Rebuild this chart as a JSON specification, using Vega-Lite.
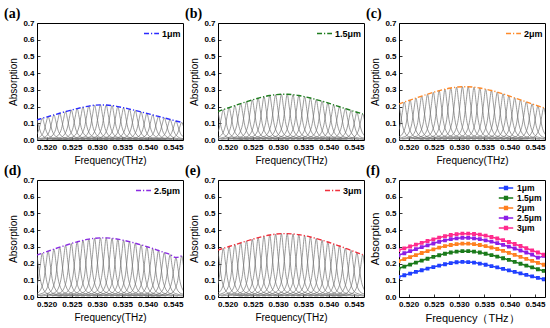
{
"$schema":"https://vega.github.io/schema/vega-lite/v6.json",
"background":"white",
"padding":{"left":3,"top":6,"right":2,"bottom":2},
"datasets":{
"xs":[
{"k":0,"x":[0.513,0.5158,0.5167,0.5172,0.5176,0.518,0.5184,0.5188,0.5193,0.5202,0.523]},
{"k":1,"x":[0.51415,0.51695,0.51785,0.51835,0.51875,0.51915,0.51955,0.51995,0.52045,0.52135,0.52415]},
{"k":2,"x":[0.5153,0.5181,0.519,0.5195,0.5199,0.5203,0.5207,0.5211,0.5216,0.5225,0.5253]},
{"k":3,"x":[0.51645,0.51925,0.52015,0.52065,0.52105,0.52145,0.52185,0.52225,0.52275,0.52365,0.52645]},
{"k":4,"x":[0.5176,0.5204,0.5213,0.5218,0.5222,0.5226,0.523,0.5234,0.5239,0.5248,0.5276]},
{"k":5,"x":[0.51875,0.52155,0.52245,0.52295,0.52335,0.52375,0.52415,0.52455,0.52505,0.52595,0.52875]},
{"k":6,"x":[0.5199,0.5227,0.5236,0.5241,0.5245,0.5249,0.5253,0.5257,0.5262,0.5271,0.5299]},
{"k":7,"x":[0.52105,0.52385,0.52475,0.52525,0.52565,0.52605,0.52645,0.52685,0.52735,0.52825,0.53105]},
{"k":8,"x":[0.5222,0.525,0.5259,0.5264,0.5268,0.5272,0.5276,0.528,0.5285,0.5294,0.5322]},
{"k":9,"x":[0.52335,0.52615,0.52705,0.52755,0.52795,0.52835,0.52875,0.52915,0.52965,0.53055,0.53335]},
{"k":10,"x":[0.5245,0.5273,0.5282,0.5287,0.5291,0.5295,0.5299,0.5303,0.5308,0.5317,0.5345]},
{"k":11,"x":[0.52565,0.52845,0.52935,0.52985,0.53025,0.53065,0.53105,0.53145,0.53195,0.53285,0.53565]},
{"k":12,"x":[0.5268,0.5296,0.5305,0.531,0.5314,0.5318,0.5322,0.5326,0.5331,0.534,0.5368]},
{"k":13,"x":[0.52795,0.53075,0.53165,0.53215,0.53255,0.53295,0.53335,0.53375,0.53425,0.53515,0.53795]},
{"k":14,"x":[0.5291,0.5319,0.5328,0.5333,0.5337,0.5341,0.5345,0.5349,0.5354,0.5363,0.5391]},
{"k":15,"x":[0.53025,0.53305,0.53395,0.53445,0.53485,0.53525,0.53565,0.53605,0.53655,0.53745,0.54025]},
{"k":16,"x":[0.5314,0.5342,0.5351,0.5356,0.536,0.5364,0.5368,0.5372,0.5377,0.5386,0.5414]},
{"k":17,"x":[0.53255,0.53535,0.53625,0.53675,0.53715,0.53755,0.53795,0.53835,0.53885,0.53975,0.54255]},
{"k":18,"x":[0.5337,0.5365,0.5374,0.5379,0.5383,0.5387,0.5391,0.5395,0.54,0.5409,0.5437]},
{"k":19,"x":[0.53485,0.53765,0.53855,0.53905,0.53945,0.53985,0.54025,0.54065,0.54115,0.54205,0.54485]},
{"k":20,"x":[0.536,0.5388,0.5397,0.5402,0.5406,0.541,0.5414,0.5418,0.5423,0.5432,0.546]},
{"k":21,"x":[0.53715,0.53995,0.54085,0.54135,0.54175,0.54215,0.54255,0.54295,0.54345,0.54435,0.54715]},
{"k":22,"x":[0.5383,0.5411,0.542,0.5425,0.5429,0.5433,0.5437,0.5441,0.5446,0.5455,0.5483]},
{"k":23,"x":[0.53945,0.54225,0.54315,0.54365,0.54405,0.54445,0.54485,0.54525,0.54575,0.54665,0.54945]},
{"k":24,"x":[0.5406,0.5434,0.5443,0.5448,0.5452,0.5456,0.546,0.5464,0.5469,0.5478,0.5506]},
{"k":25,"x":[0.54175,0.54455,0.54545,0.54595,0.54635,0.54675,0.54715,0.54755,0.54805,0.54895,0.55175]}
],
"cx":[{"j":1,"x":[0.518,0.51915,0.5203,0.52145,0.5226,0.52375,0.5249,0.52605,0.5272,0.52835,0.5295,0.53065,0.5318,0.53295,0.5341,0.53525,0.5364,0.53755,0.5387,0.53985,0.541,0.54215,0.5433,0.54445,0.5456,0.54675]}],
"env":[
{"s":"1μm","j":1,"y":[0.12,0.13,0.14,0.15,0.16,0.17,0.179,0.188,0.196,0.203,0.208,0.21,0.209,0.206,0.2,0.193,0.185,0.177,0.168,0.159,0.15,0.141,0.132,0.123,0.114,0.106]},
{"s":"1.5μm","j":1,"y":[0.17,0.182,0.194,0.206,0.218,0.229,0.24,0.25,0.259,0.266,0.271,0.274,0.274,0.271,0.266,0.259,0.251,0.242,0.232,0.222,0.21,0.199,0.188,0.177,0.166,0.156]},
{"s":"2μm","j":1,"y":[0.215,0.227,0.239,0.251,0.263,0.274,0.285,0.295,0.304,0.311,0.316,0.319,0.319,0.316,0.311,0.304,0.296,0.287,0.276,0.264,0.252,0.24,0.228,0.216,0.204,0.193]},
{"s":"2.5μm","j":1,"y":[0.25,0.262,0.274,0.286,0.298,0.309,0.32,0.33,0.339,0.346,0.351,0.354,0.354,0.351,0.346,0.339,0.331,0.322,0.312,0.301,0.29,0.278,0.266,0.254,0.236,0.246]},
{"s":"3μm","j":1,"y":[0.28,0.291,0.302,0.313,0.324,0.335,0.345,0.355,0.364,0.371,0.376,0.379,0.379,0.377,0.373,0.367,0.359,0.35,0.34,0.329,0.317,0.305,0.292,0.279,0.266,0.253]}
],
"g":[
{"p":"a","k":0,"y":[0.002,0.01,0.024,0.048,0.087,0.12,0.087,0.048,0.024,0.01,0.002]},
{"p":"a","k":1,"y":[0.002,0.01,0.026,0.052,0.094,0.13,0.094,0.052,0.026,0.01,0.002]},
{"p":"a","k":2,"y":[0.002,0.011,0.028,0.056,0.102,0.14,0.102,0.056,0.028,0.011,0.002]},
{"p":"a","k":3,"y":[0.003,0.012,0.03,0.06,0.109,0.15,0.109,0.06,0.03,0.012,0.003]},
{"p":"a","k":4,"y":[0.003,0.013,0.032,0.064,0.116,0.16,0.116,0.064,0.032,0.013,0.003]},
{"p":"a","k":5,"y":[0.003,0.014,0.034,0.068,0.123,0.17,0.123,0.068,0.034,0.014,0.003]},
{"p":"a","k":6,"y":[0.003,0.014,0.036,0.072,0.13,0.179,0.13,0.072,0.036,0.014,0.003]},
{"p":"a","k":7,"y":[0.003,0.015,0.038,0.075,0.136,0.188,0.136,0.075,0.038,0.015,0.003]},
{"p":"a","k":8,"y":[0.003,0.016,0.039,0.078,0.142,0.196,0.142,0.078,0.039,0.016,0.003]},
{"p":"a","k":9,"y":[0.003,0.016,0.041,0.081,0.147,0.203,0.147,0.081,0.041,0.016,0.003]},
{"p":"a","k":10,"y":[0.004,0.017,0.042,0.083,0.151,0.208,0.151,0.083,0.042,0.017,0.004]},
{"p":"a","k":11,"y":[0.004,0.017,0.042,0.084,0.152,0.21,0.152,0.084,0.042,0.017,0.004]},
{"p":"a","k":12,"y":[0.004,0.017,0.042,0.084,0.152,0.209,0.152,0.084,0.042,0.017,0.004]},
{"p":"a","k":13,"y":[0.004,0.016,0.041,0.082,0.149,0.206,0.149,0.082,0.041,0.016,0.004]},
{"p":"a","k":14,"y":[0.003,0.016,0.04,0.08,0.145,0.2,0.145,0.08,0.04,0.016,0.003]},
{"p":"a","k":15,"y":[0.003,0.015,0.039,0.077,0.14,0.193,0.14,0.077,0.039,0.015,0.003]},
{"p":"a","k":16,"y":[0.003,0.015,0.037,0.074,0.134,0.185,0.134,0.074,0.037,0.015,0.003]},
{"p":"a","k":17,"y":[0.003,0.014,0.035,0.071,0.128,0.177,0.128,0.071,0.035,0.014,0.003]},
{"p":"a","k":18,"y":[0.003,0.013,0.034,0.067,0.122,0.168,0.122,0.067,0.034,0.013,0.003]},
{"p":"a","k":19,"y":[0.003,0.013,0.032,0.064,0.115,0.159,0.115,0.064,0.032,0.013,0.003]},
{"p":"a","k":20,"y":[0.003,0.012,0.03,0.06,0.109,0.15,0.109,0.06,0.03,0.012,0.003]},
{"p":"a","k":21,"y":[0.002,0.011,0.028,0.056,0.102,0.141,0.102,0.056,0.028,0.011,0.002]},
{"p":"a","k":22,"y":[0.002,0.011,0.026,0.053,0.096,0.132,0.096,0.053,0.026,0.011,0.002]},
{"p":"a","k":23,"y":[0.002,0.01,0.025,0.049,0.089,0.123,0.089,0.049,0.025,0.01,0.002]},
{"p":"a","k":24,"y":[0.002,0.009,0.023,0.046,0.083,0.114,0.083,0.046,0.023,0.009,0.002]},
{"p":"a","k":25,"y":[0.002,0.008,0.021,0.042,0.077,0.106,0.077,0.042,0.021,0.008,0.002]},
{"p":"b","k":0,"y":[0.003,0.014,0.034,0.068,0.123,0.17,0.123,0.068,0.034,0.014,0.003]},
{"p":"b","k":1,"y":[0.003,0.015,0.036,0.073,0.132,0.182,0.132,0.073,0.036,0.015,0.003]},
{"p":"b","k":2,"y":[0.003,0.016,0.039,0.078,0.141,0.194,0.141,0.078,0.039,0.016,0.003]},
{"p":"b","k":3,"y":[0.004,0.016,0.041,0.082,0.149,0.206,0.149,0.082,0.041,0.016,0.004]},
{"p":"b","k":4,"y":[0.004,0.017,0.044,0.087,0.158,0.218,0.158,0.087,0.044,0.017,0.004]},
{"p":"b","k":5,"y":[0.004,0.018,0.046,0.092,0.166,0.229,0.166,0.092,0.046,0.018,0.004]},
{"p":"b","k":6,"y":[0.004,0.019,0.048,0.096,0.174,0.24,0.174,0.096,0.048,0.019,0.004]},
{"p":"b","k":7,"y":[0.004,0.02,0.05,0.1,0.181,0.25,0.181,0.1,0.05,0.02,0.004]},
{"p":"b","k":8,"y":[0.004,0.021,0.052,0.104,0.188,0.259,0.188,0.104,0.052,0.021,0.004]},
{"p":"b","k":9,"y":[0.005,0.021,0.053,0.106,0.193,0.266,0.193,0.106,0.053,0.021,0.005]},
{"p":"b","k":10,"y":[0.005,0.022,0.054,0.108,0.196,0.271,0.196,0.108,0.054,0.022,0.005]},
{"p":"b","k":11,"y":[0.005,0.022,0.055,0.11,0.199,0.274,0.199,0.11,0.055,0.022,0.005]},
{"p":"b","k":12,"y":[0.005,0.022,0.055,0.11,0.199,0.274,0.199,0.11,0.055,0.022,0.005]},
{"p":"b","k":13,"y":[0.005,0.022,0.054,0.108,0.196,0.271,0.196,0.108,0.054,0.022,0.005]},
{"p":"b","k":14,"y":[0.005,0.021,0.053,0.106,0.193,0.266,0.193,0.106,0.053,0.021,0.005]},
{"p":"b","k":15,"y":[0.004,0.021,0.052,0.104,0.188,0.259,0.188,0.104,0.052,0.021,0.004]},
{"p":"b","k":16,"y":[0.004,0.02,0.05,0.1,0.182,0.251,0.182,0.1,0.05,0.02,0.004]},
{"p":"b","k":17,"y":[0.004,0.019,0.048,0.097,0.175,0.242,0.175,0.097,0.048,0.019,0.004]},
{"p":"b","k":18,"y":[0.004,0.019,0.046,0.093,0.168,0.232,0.168,0.093,0.046,0.019,0.004]},
{"p":"b","k":19,"y":[0.004,0.018,0.044,0.089,0.161,0.222,0.161,0.089,0.044,0.018,0.004]},
{"p":"b","k":20,"y":[0.004,0.017,0.042,0.084,0.152,0.21,0.152,0.084,0.042,0.017,0.004]},
{"p":"b","k":21,"y":[0.003,0.016,0.04,0.08,0.144,0.199,0.144,0.08,0.04,0.016,0.003]},
{"p":"b","k":22,"y":[0.003,0.015,0.038,0.075,0.136,0.188,0.136,0.075,0.038,0.015,0.003]},
{"p":"b","k":23,"y":[0.003,0.014,0.035,0.071,0.128,0.177,0.128,0.071,0.035,0.014,0.003]},
{"p":"b","k":24,"y":[0.003,0.013,0.033,0.066,0.12,0.166,0.12,0.066,0.033,0.013,0.003]},
{"p":"b","k":25,"y":[0.003,0.012,0.031,0.062,0.113,0.156,0.113,0.062,0.031,0.012,0.003]},
{"p":"c","k":0,"y":[0.004,0.017,0.043,0.086,0.156,0.215,0.156,0.086,0.043,0.017,0.004]},
{"p":"c","k":1,"y":[0.004,0.018,0.045,0.091,0.165,0.227,0.165,0.091,0.045,0.018,0.004]},
{"p":"c","k":2,"y":[0.004,0.019,0.048,0.096,0.173,0.239,0.173,0.096,0.048,0.019,0.004]},
{"p":"c","k":3,"y":[0.004,0.02,0.05,0.1,0.182,0.251,0.182,0.1,0.05,0.02,0.004]},
{"p":"c","k":4,"y":[0.004,0.021,0.053,0.105,0.191,0.263,0.191,0.105,0.053,0.021,0.004]},
{"p":"c","k":5,"y":[0.005,0.022,0.055,0.11,0.199,0.274,0.199,0.11,0.055,0.022,0.005]},
{"p":"c","k":6,"y":[0.005,0.023,0.057,0.114,0.207,0.285,0.207,0.114,0.057,0.023,0.005]},
{"p":"c","k":7,"y":[0.005,0.024,0.059,0.118,0.214,0.295,0.214,0.118,0.059,0.024,0.005]},
{"p":"c","k":8,"y":[0.005,0.024,0.061,0.122,0.22,0.304,0.22,0.122,0.061,0.024,0.005]},
{"p":"c","k":9,"y":[0.005,0.025,0.062,0.124,0.225,0.311,0.225,0.124,0.062,0.025,0.005]},
{"p":"c","k":10,"y":[0.005,0.025,0.063,0.126,0.229,0.316,0.229,0.126,0.063,0.025,0.005]},
{"p":"c","k":11,"y":[0.005,0.026,0.064,0.128,0.231,0.319,0.231,0.128,0.064,0.026,0.005]},
{"p":"c","k":12,"y":[0.005,0.026,0.064,0.128,0.231,0.319,0.231,0.128,0.064,0.026,0.005]},
{"p":"c","k":13,"y":[0.005,0.025,0.063,0.126,0.229,0.316,0.229,0.126,0.063,0.025,0.005]},
{"p":"c","k":14,"y":[0.005,0.025,0.062,0.124,0.225,0.311,0.225,0.124,0.062,0.025,0.005]},
{"p":"c","k":15,"y":[0.005,0.024,0.061,0.122,0.22,0.304,0.22,0.122,0.061,0.024,0.005]},
{"p":"c","k":16,"y":[0.005,0.024,0.059,0.118,0.215,0.296,0.215,0.118,0.059,0.024,0.005]},
{"p":"c","k":17,"y":[0.005,0.023,0.057,0.115,0.208,0.287,0.208,0.115,0.057,0.023,0.005]},
{"p":"c","k":18,"y":[0.005,0.022,0.055,0.11,0.2,0.276,0.2,0.11,0.055,0.022,0.005]},
{"p":"c","k":19,"y":[0.004,0.021,0.053,0.106,0.191,0.264,0.191,0.106,0.053,0.021,0.004]},
{"p":"c","k":20,"y":[0.004,0.02,0.05,0.101,0.183,0.252,0.183,0.101,0.05,0.02,0.004]},
{"p":"c","k":21,"y":[0.004,0.019,0.048,0.096,0.174,0.24,0.174,0.096,0.048,0.019,0.004]},
{"p":"c","k":22,"y":[0.004,0.018,0.046,0.091,0.165,0.228,0.165,0.091,0.046,0.018,0.004]},
{"p":"c","k":23,"y":[0.004,0.017,0.043,0.086,0.157,0.216,0.157,0.086,0.043,0.017,0.004]},
{"p":"c","k":24,"y":[0.003,0.016,0.041,0.082,0.148,0.204,0.148,0.082,0.041,0.016,0.003]},
{"p":"c","k":25,"y":[0.003,0.015,0.039,0.077,0.14,0.193,0.14,0.077,0.039,0.015,0.003]},
{"p":"d","k":0,"y":[0.004,0.02,0.05,0.1,0.181,0.25,0.181,0.1,0.05,0.02,0.004]},
{"p":"d","k":1,"y":[0.004,0.021,0.052,0.105,0.19,0.262,0.19,0.105,0.052,0.021,0.004]},
{"p":"d","k":2,"y":[0.005,0.022,0.055,0.11,0.199,0.274,0.199,0.11,0.055,0.022,0.005]},
{"p":"d","k":3,"y":[0.005,0.023,0.057,0.114,0.207,0.286,0.207,0.114,0.057,0.023,0.005]},
{"p":"d","k":4,"y":[0.005,0.024,0.06,0.119,0.216,0.298,0.216,0.119,0.06,0.024,0.005]},
{"p":"d","k":5,"y":[0.005,0.025,0.062,0.124,0.224,0.309,0.224,0.124,0.062,0.025,0.005]},
{"p":"d","k":6,"y":[0.005,0.026,0.064,0.128,0.232,0.32,0.232,0.128,0.064,0.026,0.005]},
{"p":"d","k":7,"y":[0.006,0.026,0.066,0.132,0.239,0.33,0.239,0.132,0.066,0.026,0.006]},
{"p":"d","k":8,"y":[0.006,0.027,0.068,0.136,0.246,0.339,0.246,0.136,0.068,0.027,0.006]},
{"p":"d","k":9,"y":[0.006,0.028,0.069,0.138,0.251,0.346,0.251,0.138,0.069,0.028,0.006]},
{"p":"d","k":10,"y":[0.006,0.028,0.07,0.14,0.254,0.351,0.254,0.14,0.07,0.028,0.006]},
{"p":"d","k":11,"y":[0.006,0.028,0.071,0.142,0.257,0.354,0.257,0.142,0.071,0.028,0.006]},
{"p":"d","k":12,"y":[0.006,0.028,0.071,0.142,0.257,0.354,0.257,0.142,0.071,0.028,0.006]},
{"p":"d","k":13,"y":[0.006,0.028,0.07,0.14,0.254,0.351,0.254,0.14,0.07,0.028,0.006]},
{"p":"d","k":14,"y":[0.006,0.028,0.069,0.138,0.251,0.346,0.251,0.138,0.069,0.028,0.006]},
{"p":"d","k":15,"y":[0.006,0.027,0.068,0.136,0.246,0.339,0.246,0.136,0.068,0.027,0.006]},
{"p":"d","k":16,"y":[0.006,0.026,0.066,0.132,0.24,0.331,0.24,0.132,0.066,0.026,0.006]},
{"p":"d","k":17,"y":[0.005,0.026,0.064,0.129,0.233,0.322,0.233,0.129,0.064,0.026,0.005]},
{"p":"d","k":18,"y":[0.005,0.025,0.062,0.125,0.226,0.312,0.226,0.125,0.062,0.025,0.005]},
{"p":"d","k":19,"y":[0.005,0.024,0.06,0.12,0.218,0.301,0.218,0.12,0.06,0.024,0.005]},
{"p":"d","k":20,"y":[0.005,0.023,0.058,0.116,0.21,0.29,0.21,0.116,0.058,0.023,0.005]},
{"p":"d","k":21,"y":[0.005,0.022,0.056,0.111,0.202,0.278,0.202,0.111,0.056,0.022,0.005]},
{"p":"d","k":22,"y":[0.005,0.021,0.053,0.106,0.193,0.266,0.193,0.106,0.053,0.021,0.005]},
{"p":"d","k":23,"y":[0.004,0.02,0.051,0.102,0.184,0.254,0.184,0.102,0.051,0.02,0.004]},
{"p":"d","k":24,"y":[0.004,0.019,0.047,0.094,0.171,0.236,0.171,0.094,0.047,0.019,0.004]},
{"p":"d","k":25,"y":[0.004,0.02,0.049,0.098,0.178,0.246,0.178,0.098,0.049,0.02,0.004]},
{"p":"e","k":0,"y":[0.005,0.022,0.056,0.112,0.203,0.28,0.203,0.112,0.056,0.022,0.005]},
{"p":"e","k":1,"y":[0.005,0.023,0.058,0.116,0.211,0.291,0.211,0.116,0.058,0.023,0.005]},
{"p":"e","k":2,"y":[0.005,0.024,0.06,0.121,0.219,0.302,0.219,0.121,0.06,0.024,0.005]},
{"p":"e","k":3,"y":[0.005,0.025,0.063,0.125,0.227,0.313,0.227,0.125,0.063,0.025,0.005]},
{"p":"e","k":4,"y":[0.006,0.026,0.065,0.13,0.235,0.324,0.235,0.13,0.065,0.026,0.006]},
{"p":"e","k":5,"y":[0.006,0.027,0.067,0.134,0.243,0.335,0.243,0.134,0.067,0.027,0.006]},
{"p":"e","k":6,"y":[0.006,0.028,0.069,0.138,0.25,0.345,0.25,0.138,0.069,0.028,0.006]},
{"p":"e","k":7,"y":[0.006,0.028,0.071,0.142,0.257,0.355,0.257,0.142,0.071,0.028,0.006]},
{"p":"e","k":8,"y":[0.006,0.029,0.073,0.146,0.264,0.364,0.264,0.146,0.073,0.029,0.006]},
{"p":"e","k":9,"y":[0.006,0.03,0.074,0.148,0.269,0.371,0.269,0.148,0.074,0.03,0.006]},
{"p":"e","k":10,"y":[0.006,0.03,0.075,0.15,0.273,0.376,0.273,0.15,0.075,0.03,0.006]},
{"p":"e","k":11,"y":[0.006,0.03,0.076,0.152,0.275,0.379,0.275,0.152,0.076,0.03,0.006]},
{"p":"e","k":12,"y":[0.006,0.03,0.076,0.152,0.275,0.379,0.275,0.152,0.076,0.03,0.006]},
{"p":"e","k":13,"y":[0.006,0.03,0.075,0.151,0.273,0.377,0.273,0.151,0.075,0.03,0.006]},
{"p":"e","k":14,"y":[0.006,0.03,0.075,0.149,0.27,0.373,0.27,0.149,0.075,0.03,0.006]},
{"p":"e","k":15,"y":[0.006,0.029,0.073,0.147,0.266,0.367,0.266,0.147,0.073,0.029,0.006]},
{"p":"e","k":16,"y":[0.006,0.029,0.072,0.144,0.26,0.359,0.26,0.144,0.072,0.029,0.006]},
{"p":"e","k":17,"y":[0.006,0.028,0.07,0.14,0.254,0.35,0.254,0.14,0.07,0.028,0.006]},
{"p":"e","k":18,"y":[0.006,0.027,0.068,0.136,0.247,0.34,0.247,0.136,0.068,0.027,0.006]},
{"p":"e","k":19,"y":[0.006,0.026,0.066,0.132,0.239,0.329,0.239,0.132,0.066,0.026,0.006]},
{"p":"e","k":20,"y":[0.005,0.025,0.063,0.127,0.23,0.317,0.23,0.127,0.063,0.025,0.005]},
{"p":"e","k":21,"y":[0.005,0.024,0.061,0.122,0.221,0.305,0.221,0.122,0.061,0.024,0.005]},
{"p":"e","k":22,"y":[0.005,0.023,0.058,0.117,0.212,0.292,0.212,0.117,0.058,0.023,0.005]},
{"p":"e","k":23,"y":[0.005,0.022,0.056,0.112,0.202,0.279,0.202,0.112,0.056,0.022,0.005]},
{"p":"e","k":24,"y":[0.005,0.021,0.053,0.106,0.193,0.266,0.193,0.106,0.053,0.021,0.005]},
{"p":"e","k":25,"y":[0.004,0.02,0.051,0.101,0.183,0.253,0.183,0.101,0.051,0.02,0.004]}
]
},
"columns":3,
"spacing":{"row":40,"column":35},
"bounds":"flush",
"resolve":{"scale":{"color":"independent","stroke":"independent","x":"independent","y":"independent"},"legend":{"color":"independent","stroke":"independent"}},
"concat":[
{"width":146,"height":117,"title":{"text":"(a)"},
"encoding":{"x":{"field":"x","type":"quantitative","scale":{"domain":[0.5181,0.547],"nice":false,"zero":false},"axis":{"title":"Frequency(THz)","values":[0.52,0.525,0.53,0.535,0.54,0.545],"format":".3f"}},
"y":{"field":"y","type":"quantitative","scale":{"domain":[0,0.7],"nice":false},"axis":{"title":"Absorption","values":[0,0.1,0.2,0.3,0.4,0.5,0.6,0.7],"format":".1f"}}},
"layer":[
{"data":{"name":"g"},"transform":[{"filter":"datum.p == 'a'"},{"lookup":"k","from":{"data":{"name":"xs"},"key":"k","fields":["x"]}},{"flatten":["x","y"]}],
"mark":{"type":"line","color":"#707070","strokeWidth":0.7,"interpolate":"monotone","clip":true},
"encoding":{"detail":{"field":"k","type":"nominal"}}},
{"data":{"name":"env"},"transform":[{"filter":"datum.s == '1μm'"},{"lookup":"j","from":{"data":{"name":"cx"},"key":"j","fields":["x"]}},{"flatten":["x","y"]}],
"mark":{"type":"line","strokeWidth":1.4,"strokeDash":[5,2,1.2,2],"interpolate":"monotone","clip":true},
"encoding":{"color":{"field":"s","type":"nominal","scale":{"domain":["1μm"],"range":["#2a2aff"]},"legend":{"title":null}}}}
]},
{"width":146,"height":117,"title":{"text":"(b)"},
"encoding":{"x":{"field":"x","type":"quantitative","scale":{"domain":[0.5181,0.547],"nice":false,"zero":false},"axis":{"title":"Frequency(THz)","values":[0.52,0.525,0.53,0.535,0.54,0.545],"format":".3f"}},
"y":{"field":"y","type":"quantitative","scale":{"domain":[0,0.7],"nice":false},"axis":{"title":"Absorption","values":[0,0.1,0.2,0.3,0.4,0.5,0.6,0.7],"format":".1f"}}},
"layer":[
{"data":{"name":"g"},"transform":[{"filter":"datum.p == 'b'"},{"lookup":"k","from":{"data":{"name":"xs"},"key":"k","fields":["x"]}},{"flatten":["x","y"]}],
"mark":{"type":"line","color":"#707070","strokeWidth":0.7,"interpolate":"monotone","clip":true},
"encoding":{"detail":{"field":"k","type":"nominal"}}},
{"data":{"name":"env"},"transform":[{"filter":"datum.s == '1.5μm'"},{"lookup":"j","from":{"data":{"name":"cx"},"key":"j","fields":["x"]}},{"flatten":["x","y"]}],
"mark":{"type":"line","strokeWidth":1.4,"strokeDash":[5,2,1.2,2],"interpolate":"monotone","clip":true},
"encoding":{"color":{"field":"s","type":"nominal","scale":{"domain":["1.5μm"],"range":["#1e7d1e"]},"legend":{"title":null}}}}
]},
{"width":146,"height":117,"title":{"text":"(c)"},
"encoding":{"x":{"field":"x","type":"quantitative","scale":{"domain":[0.5181,0.547],"nice":false,"zero":false},"axis":{"title":"Frequency(THz)","values":[0.52,0.525,0.53,0.535,0.54,0.545],"format":".3f"}},
"y":{"field":"y","type":"quantitative","scale":{"domain":[0,0.7],"nice":false},"axis":{"title":"Absorption","values":[0,0.1,0.2,0.3,0.4,0.5,0.6,0.7],"format":".1f"}}},
"layer":[
{"data":{"name":"g"},"transform":[{"filter":"datum.p == 'c'"},{"lookup":"k","from":{"data":{"name":"xs"},"key":"k","fields":["x"]}},{"flatten":["x","y"]}],
"mark":{"type":"line","color":"#707070","strokeWidth":0.7,"interpolate":"monotone","clip":true},
"encoding":{"detail":{"field":"k","type":"nominal"}}},
{"data":{"name":"env"},"transform":[{"filter":"datum.s == '2μm'"},{"lookup":"j","from":{"data":{"name":"cx"},"key":"j","fields":["x"]}},{"flatten":["x","y"]}],
"mark":{"type":"line","strokeWidth":1.4,"strokeDash":[5,2,1.2,2],"interpolate":"monotone","clip":true},
"encoding":{"color":{"field":"s","type":"nominal","scale":{"domain":["2μm"],"range":["#ff8a2a"]},"legend":{"title":null}}}}
]},
{"width":146,"height":117,"title":{"text":"(d)"},
"encoding":{"x":{"field":"x","type":"quantitative","scale":{"domain":[0.5181,0.547],"nice":false,"zero":false},"axis":{"title":"Frequency(THz)","values":[0.52,0.525,0.53,0.535,0.54,0.545],"format":".3f"}},
"y":{"field":"y","type":"quantitative","scale":{"domain":[0,0.7],"nice":false},"axis":{"title":"Absorption","values":[0,0.1,0.2,0.3,0.4,0.5,0.6,0.7],"format":".1f"}}},
"layer":[
{"data":{"name":"g"},"transform":[{"filter":"datum.p == 'd'"},{"lookup":"k","from":{"data":{"name":"xs"},"key":"k","fields":["x"]}},{"flatten":["x","y"]}],
"mark":{"type":"line","color":"#707070","strokeWidth":0.7,"interpolate":"monotone","clip":true},
"encoding":{"detail":{"field":"k","type":"nominal"}}},
{"data":{"name":"env"},"transform":[{"filter":"datum.s == '2.5μm'"},{"lookup":"j","from":{"data":{"name":"cx"},"key":"j","fields":["x"]}},{"flatten":["x","y"]}],
"mark":{"type":"line","strokeWidth":1.4,"strokeDash":[5,2,1.2,2],"interpolate":"monotone","clip":true},
"encoding":{"color":{"field":"s","type":"nominal","scale":{"domain":["2.5μm"],"range":["#8a2be2"]},"legend":{"title":null}}}}
]},
{"width":146,"height":117,"title":{"text":"(e)"},
"encoding":{"x":{"field":"x","type":"quantitative","scale":{"domain":[0.5181,0.547],"nice":false,"zero":false},"axis":{"title":"Frequency(THz)","values":[0.52,0.525,0.53,0.535,0.54,0.545],"format":".3f"}},
"y":{"field":"y","type":"quantitative","scale":{"domain":[0,0.7],"nice":false},"axis":{"title":"Absorption","values":[0,0.1,0.2,0.3,0.4,0.5,0.6,0.7],"format":".1f"}}},
"layer":[
{"data":{"name":"g"},"transform":[{"filter":"datum.p == 'e'"},{"lookup":"k","from":{"data":{"name":"xs"},"key":"k","fields":["x"]}},{"flatten":["x","y"]}],
"mark":{"type":"line","color":"#707070","strokeWidth":0.7,"interpolate":"monotone","clip":true},
"encoding":{"detail":{"field":"k","type":"nominal"}}},
{"data":{"name":"env"},"transform":[{"filter":"datum.s == '3μm'"},{"lookup":"j","from":{"data":{"name":"cx"},"key":"j","fields":["x"]}},{"flatten":["x","y"]}],
"mark":{"type":"line","strokeWidth":1.4,"strokeDash":[5,2,1.2,2],"interpolate":"monotone","clip":true},
"encoding":{"color":{"field":"s","type":"nominal","scale":{"domain":["3μm"],"range":["#f0303c"]},"legend":{"title":null}}}}
]},
{"width":146,"height":117,"title":{"text":"(f)"},
"data":{"name":"env"},
"transform":[{"lookup":"j","from":{"data":{"name":"cx"},"key":"j","fields":["x"]}},{"flatten":["x","y"]}],
"encoding":{"x":{"field":"x","type":"quantitative","scale":{"domain":[0.5181,0.547],"nice":false,"zero":false},"axis":{"title":"Frequency（THz）","titleFontSize":11,"values":[0.52,0.525,0.53,0.535,0.54,0.545],"format":".3f"}},
"y":{"field":"y","type":"quantitative","scale":{"domain":[0,0.7],"nice":false},"axis":{"title":"Absorption","titleFontSize":11,"values":[0,0.1,0.2,0.3,0.4,0.5,0.6,0.7],"format":".1f"}},
"stroke":{"field":"s","type":"nominal","scale":{"domain":["1μm","1.5μm","2μm","2.5μm","3μm"],"range":["#1f3fff","#1a7a1a","#ff7f1e","#8c1ee6","#ff2a8c"]},
"legend":{"title":null,"symbolType":"M-1.8,0L1.8,0M-0.35,-0.35L0.35,-0.35L0.35,0.35L-0.35,0.35Z","symbolDash":[],"symbolSize":64,"symbolStrokeWidth":1.5,"labelFontSize":8.5,"labelOffset":6,"rowPadding":0,"offset":3,
"encode":{"symbols":{"update":{"shape":{"value":"M-1.8,0L1.8,0M-0.35,-0.35L0.35,-0.35L0.35,0.35L-0.35,0.35Z"},"size":{"value":64},"strokeWidth":{"value":1.5},"strokeDash":{"value":[]}}}}}}},
"layer":[
{"mark":{"type":"line","strokeWidth":1.5,"interpolate":"monotone","clip":true}},
{"mark":{"type":"point","shape":"square","filled":false,"size":5,"strokeWidth":1.6,"opacity":1,"clip":true}}
]}
],
"config":{
"view":{"stroke":"black","strokeWidth":1},
"title":{"anchor":"start","frame":"group","dx":-33,"offset":-2,"font":"Liberation Serif","fontSize":14,"fontWeight":"bold","color":"black"},
"axis":{"grid":false,"domain":false,"tickSize":-3,"tickColor":"black","tickWidth":0.8,"labelPadding":6,"labelFlush":false,"labelOverlap":false,"labelFont":"Liberation Sans Narrow, Liberation Sans","labelFontSize":8,"labelFontWeight":"bold","labelColor":"black","titleFont":"Liberation Sans","titleFontWeight":"normal","titleFontSize":10,"titleColor":"black","titlePadding":4},
"legend":{"orient":"top-right","offset":2,"padding":0,"labelFont":"Liberation Sans","labelFontWeight":"bold","labelFontSize":9,"labelColor":"black","labelOffset":2,"symbolType":"stroke","symbolSize":225,"symbolStrokeWidth":1.3,"symbolDash":[5,2,1.2,2]}
}
}
